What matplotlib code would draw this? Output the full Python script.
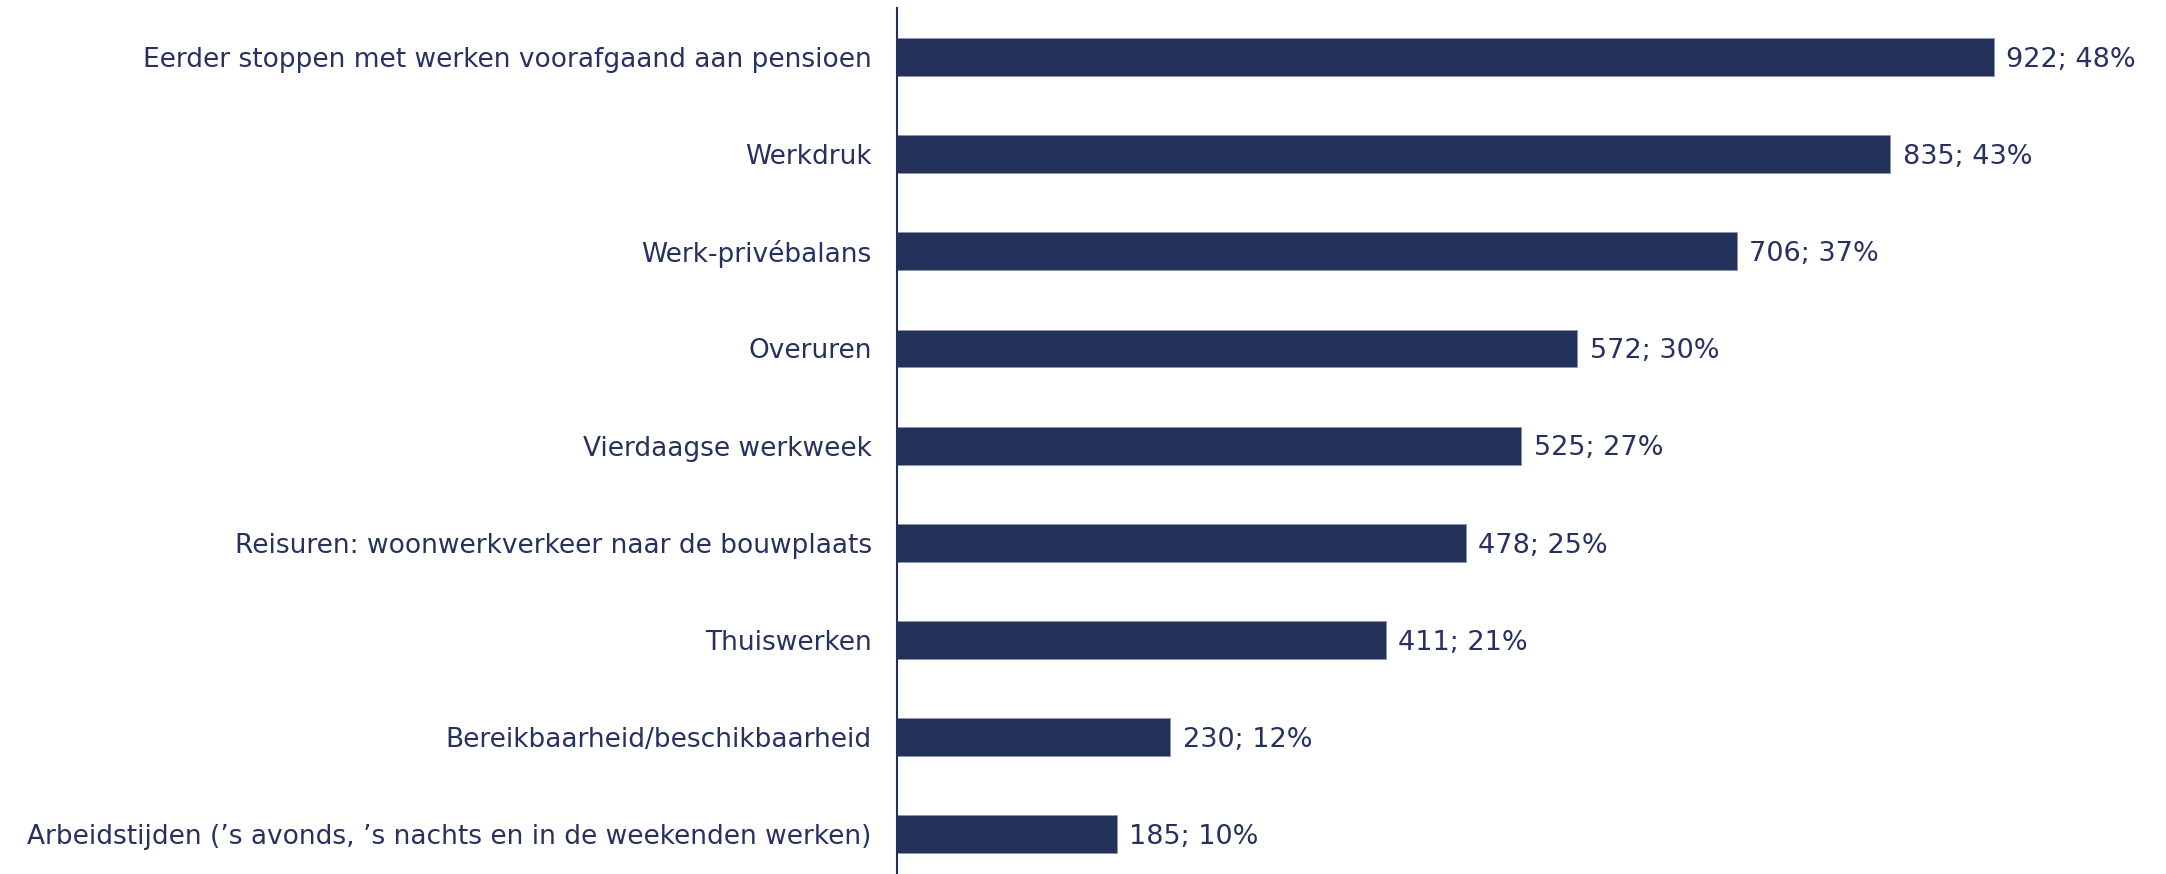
import matplotlib.pyplot as plt

categories = [
    "Eerder stoppen met werken voorafgaand aan pensioen",
    "Werkdruk",
    "Werk-privébalans",
    "Overuren",
    "Vierdaagse werkweek",
    "Reisuren: woonwerkverkeer naar de bouwplaats",
    "Thuiswerken",
    "Bereikbaarheid/beschikbaarheid",
    "Arbeidstijden (\u2019s avonds, \u2019s nachts en in de weekenden werken)",
]
counts = [922, 835, 706, 572, 525, 478, 411, 230, 185]
percents = [48, 43, 37, 30, 27, 25, 21, 12, 10]

navy = "#22305a"
text_col = "#26315f"

fig = plt.figure(figsize=(21.66, 8.74), dpi=100)
ax = fig.add_axes([0.414, 0.0, 0.5494, 0.9908])

ypos = list(range(len(categories)))
bars = ax.barh(ypos, counts, height=0.39, color=navy,
               edgecolor="#8a93b0", linewidth=0.6)

# value labels: "count; percent" just right of each bar
for y, c, p in zip(ypos, counts, percents):
    ax.annotate(f"{c}; {p}%", xy=(c, y), xytext=(9, -2),
                textcoords="offset points", va="center", ha="left",
                fontsize=19.5, color=text_col)

ax.set_xlim(0, 1000)
ax.set_ylim(8.41, -0.505)
ax.set_yticks(ypos)
ax.set_yticklabels(categories, fontsize=19, color=text_col)
ax.tick_params(axis="y", length=0, pad=18)
ax.set_xticks([])

for side in ["top", "right", "bottom"]:
    ax.spines[side].set_visible(False)
ax.spines["left"].set_color(navy)
ax.spines["left"].set_linewidth(1.5)

fig.savefig("out.png", dpi=100)
